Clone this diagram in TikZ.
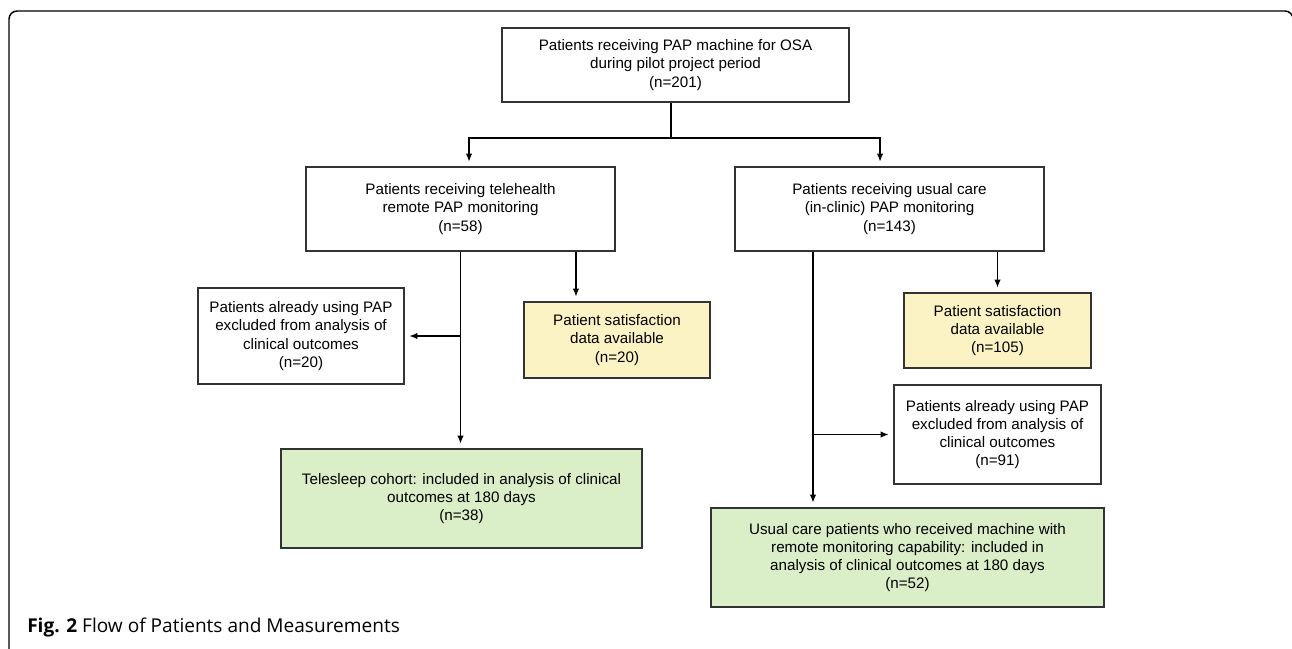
\documentclass[tikz,border=0pt]{standalone}
\usepackage{fontspec}
\setmainfont{Liberation Sans}
\newfontfamily\capfont{Open Sans}
\usetikzlibrary{arrows.meta}
\definecolor{satfill}{RGB}{252,243,196}
\definecolor{cohfill}{RGB}{218,238,200}
\definecolor{edge}{RGB}{51,51,51}
\begin{document}
\begin{tikzpicture}[x=0.75pt,y=-0.75pt,
  >={Latex[length=6pt,width=4.8pt]},
  box/.style={draw=edge, line width=1.1pt, align=center, inner sep=0pt,
    font=\fontsize{11.4}{13.7}\selectfont},
  satbox/.style={box, fill=satfill},
  cohbox/.style={box, fill=cohfill},
  arr/.style={->, line width=0.9pt, shorten >=3.5pt}]
\useasboundingbox (0,0) rectangle (1292,649);
\draw[line width=1.1pt, rounded corners=6pt] (9,652) -- (9,11) -- (1293,11) -- (1293,652);
\node[box, minimum width=260.25pt, minimum height=55.5pt] (all) at (675.5,65) {Patients receiving PAP machine for OSA\\during pilot project period\\(n=201)};
\node[box, minimum width=231.75pt, minimum height=63pt] (tele) at (460.5,209) {Patients receiving telehealth\\remote PAP monitoring\\(n=58)};
\node[box, minimum width=231.75pt, minimum height=63pt] (usual) at (889.5,209) {Patients receiving usual care\\(in-clinic) PAP monitoring\\(n=143)};
\node[box, minimum width=154.5pt, minimum height=72pt] (exA) at (301,336) {Patients already using PAP\\excluded from analysis of\\clinical outcomes\\(n=20)};
\node[satbox, minimum width=139.5pt, minimum height=57pt] (satA) at (617,340) {Patient satisfaction\\data available\\(n=20)};
\node[cohbox, minimum width=270.75pt, minimum height=74.25pt] (cohA) at (461.5,498.5) {Telesleep cohort: included in analysis of clinical\\outcomes at 180 days\\(n=38)};
\node[satbox, minimum width=140.25pt, minimum height=56.25pt] (satB) at (997.5,330.5) {Patient satisfaction\\data available\\(n=105)};
\node[box, minimum width=155.25pt, minimum height=74.25pt] (exB) at (997.5,434.5) {Patients already using PAP\\excluded from analysis of\\clinical outcomes\\(n=91)};
\node[cohbox, minimum width=294.75pt, minimum height=74.25pt] (cohB) at (907.5,557.5) {Usual care patients who received machine with\\remote monitoring capability: included in\\analysis of clinical outcomes at 180 days\\(n=52)};
\node[anchor=base west, inner sep=0pt, font=\capfont\fontsize{14.3}{16}\selectfont] (cap) at (27,632) {\textbf{Fig. 2} Flow of Patients and Measurements};
% split below the first box
\coordinate (split) at (671,138);
\draw[line width=0.9pt] (all.south -| split) -- (split);
\draw[arr] (split) -| ([xshift=6.4pt]tele.north);
\draw[arr] (split) -| ([xshift=-7.1pt]usual.north);
% telehealth branch
\draw[arr] (tele.south) -- (tele.south |- cohA.north);
\draw[arr] (tele.south |- exA.east) -- (exA.east);
\draw[arr] ([xshift=86.6pt]tele.south) -- ([xshift=86.6pt]tele.south |- satA.north);
% usual care branch
\draw[arr] ([xshift=-57.4pt]usual.south) coordinate (down) -- (down |- cohB.north);
\draw[arr] (down |- exB.west) -- (exB.west);
\draw[arr] (satB.north |- usual.south) -- (satB.north);
\end{tikzpicture}
\end{document}
